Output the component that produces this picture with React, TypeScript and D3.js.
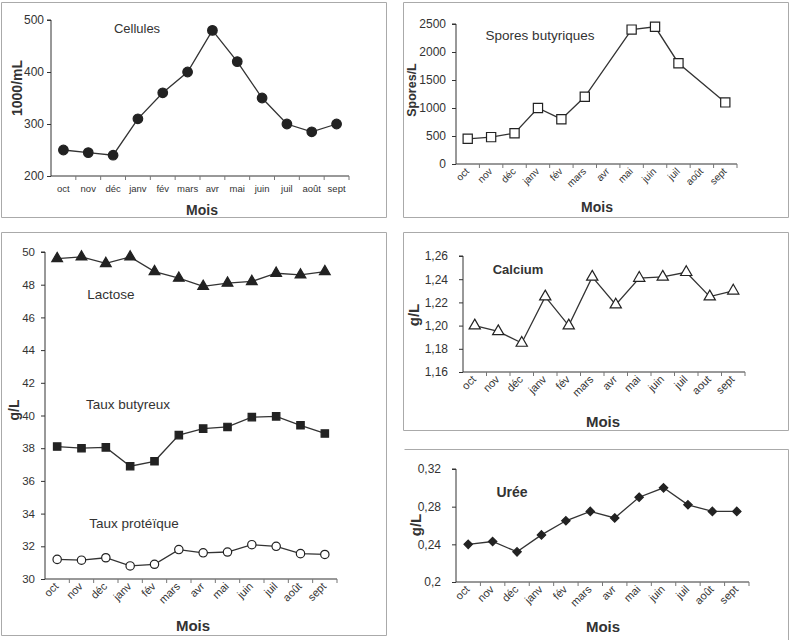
import { useEffect, useRef } from "react";
import * as d3 from "d3";

const months = ["oct", "nov", "déc", "janv", "fév", "mars", "avr", "mai", "juin", "juil", "août", "sept"];
const monthsCalcium = ["oct", "nov", "déc", "janv", "fév", "mars", "avr", "mai", "juin", "juil", "aout", "sept"];

const cellules = [250, 245, 240, 310, 360, 400, 480, 420, 350, 300, 285, 300];
const spores = [450, 480, 550, 1000, 800, 1200, null, 2400, 2450, 1800, null, 1100];
const lactose = [49.6, 49.7, 49.3, 49.7, 48.8, 48.4, 47.9, 48.1, 48.2, 48.7, 48.6, 48.8];
const tauxButyreux = [38.1, 38.0, 38.05, 36.9, 37.2, 38.8, 39.2, 39.3, 39.9, 39.95, 39.4, 38.9];
const tauxProteique = [31.2, 31.15, 31.3, 30.8, 30.9, 31.8, 31.6, 31.65, 32.1, 32.0, 31.55, 31.5];
const calcium = [1.2, 1.195, 1.185, 1.225, 1.2, 1.242, 1.218, 1.241, 1.242, 1.246, 1.225, 1.23];
const uree = [0.24, 0.243, 0.232, 0.25, 0.265, 0.275, 0.268, 0.29, 0.3, 0.282, 0.275, 0.275];

const cellulesTicks = [200, 300, 400, 500];
const sporesTicks = [0, 500, 1000, 1500, 2000, 2500];
const gLTicks = [30, 32, 34, 36, 38, 40, 42, 44, 46, 48, 50];
const calciumTicks = [1.16, 1.18, 1.2, 1.22, 1.24, 1.26];
const ureeTicks = [0.2, 0.24, 0.28, 0.32];

const FONT = "'Liberation Sans', Arial, sans-serif";
const INK = "#333";

export default function App() {
  const ref = useRef(null);

  useEffect(() => {
    const svg = d3.select(ref.current);
    svg.selectAll("*").remove();

    // panel frames
    const frame = (x0, y0, x1, y1, sides = "trbl") => {
      const g = svg.append("g").attr("stroke", "#aaa").attr("stroke-width", 1).attr("fill", "none");
      if (sides.includes("t")) g.append("line").attr("x1", x0).attr("x2", x1).attr("y1", y0).attr("y2", y0);
      if (sides.includes("r")) g.append("line").attr("x1", x1).attr("x2", x1).attr("y1", y0).attr("y2", y1);
      if (sides.includes("b")) g.append("line").attr("x1", x0).attr("x2", x1).attr("y1", y1).attr("y2", y1);
      if (sides.includes("l")) g.append("line").attr("x1", x0).attr("x2", x0).attr("y1", y0).attr("y2", y1);
    };
    frame(1.5, 2.5, 386.5, 217.5);
    frame(403.5, 2.5, 788.5, 217.5);
    frame(1.5, 232.5, 386.5, 635.5);
    frame(403.5, 232.5, 788.5, 430.5);
    frame(404.5, 449.5, 788.5, 642, "tr");

    const panel = (cfg) => {
      const x = d3.scaleBand().domain(cfg.cats).range([cfg.x0, cfg.x1]);
      const y = d3.scaleLinear().domain(cfg.domain).range([cfg.yBot, cfg.yTop]);
      const g = svg.append("g");

      // y axis
      const ya = g.append("g")
        .attr("transform", `translate(${cfg.x0},0)`)
        .call(d3.axisLeft(y).tickValues(cfg.ticks).tickSize(4).tickPadding(cfg.yPad).tickFormat(cfg.fmt));
      ya.select(".domain").attr("stroke", INK).attr("d", `M-4,${cfg.yTop}H0V${cfg.yBot}`);
      ya.selectAll("line").attr("stroke", INK);
      ya.selectAll("text").attr("fill", INK).style("font-family", FONT).style("font-size", cfg.yFont + "px");

      // x axis with ticks at category boundaries
      const xa = g.append("g").attr("transform", `translate(0,${cfg.yBot})`);
      xa.append("line").attr("x1", cfg.x0).attr("x2", cfg.x1).attr("stroke", INK);
      xa.selectAll("line.tk")
        .data(cfg.cats.slice(1).concat(["__end"]))
        .join("line")
        .attr("class", "tk")
        .attr("x1", (d, i) => cfg.x0 + x.step() * (i + 1))
        .attr("x2", (d, i) => cfg.x0 + x.step() * (i + 1))
        .attr("y1", 0)
        .attr("y2", 4)
        .attr("stroke", "#777");
      const lbl = xa.selectAll("text")
        .data(cfg.cats)
        .join("text")
        .text((d) => d)
        .attr("fill", INK)
        .style("font-family", FONT)
        .style("font-size", cfg.xFont + "px");
      if (cfg.rotate) {
        lbl.attr("text-anchor", "end")
          .attr("transform", (d) => `translate(${x(d) + x.bandwidth() / 2 + 2},${cfg.xPad}) rotate(-45)`);
      } else {
        lbl.attr("text-anchor", "middle")
          .attr("x", (d) => x(d) + x.bandwidth() / 2)
          .attr("y", cfg.xPad);
      }

      // axis titles
      g.append("text")
        .text("Mois")
        .attr("x", cfg.mois[0])
        .attr("y", cfg.mois[1])
        .attr("text-anchor", "middle")
        .attr("dominant-baseline", "central")
        .attr("fill", INK)
        .style("font-family", FONT)
        .style("font-weight", "bold")
        .style("font-size", cfg.moisFont + "px");
      g.append("text")
        .text(cfg.yTitle)
        .attr("transform", `translate(${cfg.yTitlePos[0]},${cfg.yTitlePos[1]}) rotate(-90)`)
        .attr("text-anchor", "middle")
        .attr("dominant-baseline", "central")
        .attr("fill", INK)
        .style("font-family", FONT)
        .style("font-weight", "bold")
        .style("font-size", cfg.yTitleFont + "px");

      // series
      cfg.series.forEach((s) => {
        const pts = s.values.map((v, i) => ({ c: cfg.cats[i], v })).filter((p) => p.v != null);
        g.append("path")
          .datum(pts)
          .attr("fill", "none")
          .attr("stroke", INK)
          .attr("stroke-width", 1.3)
          .attr("d", d3.line().x((p) => x(p.c) + x.bandwidth() / 2).y((p) => y(p.v)));
        g.selectAll(null)
          .data(pts)
          .join("path")
          .attr("transform", (p) => `translate(${x(p.c) + x.bandwidth() / 2},${y(p.v)})`)
          .attr("d", d3.symbol().type(s.symbol).size(s.size))
          .attr("fill", s.filled ? "#222" : "#fff")
          .attr("stroke", "#222")
          .attr("stroke-width", 1.2);
        if (s.label) {
          g.append("text")
            .text(s.label)
            .attr("x", s.labelPos[0])
            .attr("y", s.labelPos[1])
            .attr("text-anchor", "middle")
            .attr("dominant-baseline", "central")
            .attr("fill", INK)
            .style("font-family", FONT)
            .style("font-weight", s.bold ? "bold" : "normal")
            .style("font-size", s.labelFont + "px");
        }
      });
    };

    const comma = (d) => String(d).replace(".", ",");

    panel({
      cats: months, x0: 51, x1: 349, yTop: 20, yBot: 176, domain: [200, 500], ticks: cellulesTicks,
      fmt: d3.format("d"), yPad: 3, yFont: 12, xFont: 9.5, xPad: 16, rotate: false,
      mois: [202, 210], moisFont: 14, yTitle: "1000/mL", yTitlePos: [17, 88], yTitleFont: 14,
      series: [{ values: cellules, symbol: d3.symbolCircle, size: 72, filled: true, label: "Cellules", labelPos: [137, 28], labelFont: 13 }],
    });

    panel({
      cats: months, x0: 456, x1: 737, yTop: 24, yBot: 164, domain: [0, 2500], ticks: sporesTicks,
      fmt: d3.format("d"), yPad: 6, yFont: 12, xFont: 10, xPad: 8, rotate: true,
      mois: [597, 207], moisFont: 14, yTitle: "Spores/L", yTitlePos: [412, 90], yTitleFont: 12.5,
      series: [{ values: spores, symbol: d3.symbolSquare, size: 85, filled: false, label: "Spores butyriques", labelPos: [540, 35], labelFont: 13.5 }],
    });

    panel({
      cats: months, x0: 45, x1: 337, yTop: 252, yBot: 579, domain: [30, 50], ticks: gLTicks,
      fmt: d3.format("d"), yPad: 6, yFont: 11.5, xFont: 11, xPad: 8, rotate: true,
      mois: [193, 625], moisFont: 15, yTitle: "g/L", yTitlePos: [14, 410], yTitleFont: 14,
      series: [
        { values: lactose, symbol: d3.symbolTriangle, size: 50, filled: true, label: "Lactose", labelPos: [111, 294], labelFont: 13.5 },
        { values: tauxButyreux, symbol: d3.symbolSquare, size: 55, filled: true, label: "Taux butyreux", labelPos: [128, 404], labelFont: 13.5 },
        { values: tauxProteique, symbol: d3.symbolCircle, size: 55, filled: false, label: "Taux protéïque", labelPos: [134, 523], labelFont: 13.5 },
      ],
    });

    panel({
      cats: monthsCalcium, x0: 463, x1: 745, yTop: 256, yBot: 372, domain: [1.16, 1.26], ticks: calciumTicks,
      fmt: (d) => d.toFixed(2).replace(".", ","), yPad: 11, yFont: 12, xFont: 11, xPad: 8, rotate: true,
      mois: [603, 421], moisFont: 15, yTitle: "g/L", yTitlePos: [413, 315], yTitleFont: 15,
      series: [{ values: calcium, symbol: d3.symbolTriangle, size: 55, filled: false, label: "Calcium", labelPos: [518, 269], labelFont: 13, bold: true }],
    });

    panel({
      cats: months, x0: 456, x1: 749, yTop: 469, yBot: 582, domain: [0.2, 0.32], ticks: ureeTicks,
      fmt: comma, yPad: 11, yFont: 12, xFont: 11, xPad: 8, rotate: true,
      mois: [603, 626], moisFont: 15, yTitle: "g/L", yTitlePos: [415, 525], yTitleFont: 15,
      series: [{ values: uree, symbol: d3.symbolDiamond2, size: 45, filled: true, label: "Urée", labelPos: [512, 492], labelFont: 14, bold: true }],
    });
  }, []);

  return (
    <svg
      ref={ref}
      width={792}
      height={640}
      style={{ position: "absolute", left: 0, top: 0, background: "#fff" }}
    />
  );
}
